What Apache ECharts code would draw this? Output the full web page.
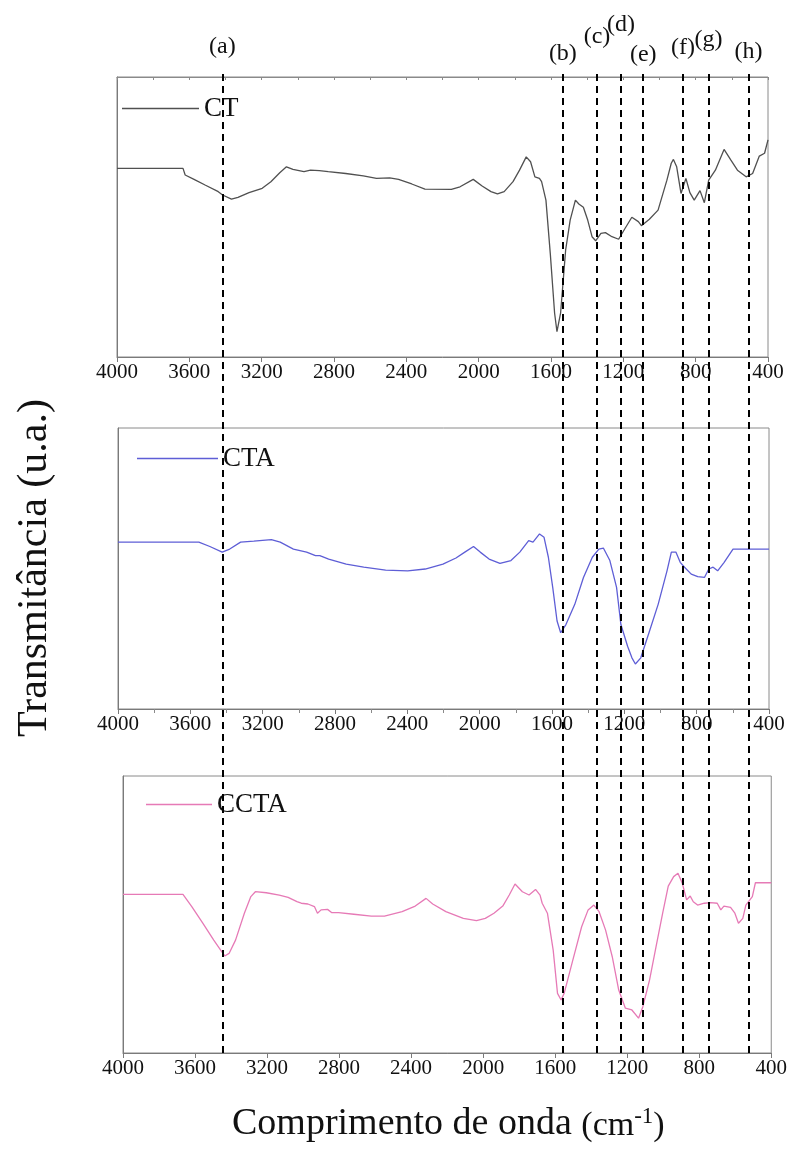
<!DOCTYPE html>
<html>
<head>
<meta charset="utf-8">
<script src="https://cdn.jsdelivr.net/npm/echarts@6/dist/echarts.min.js"></script>
<style>
  html, body { margin: 0; padding: 0; background: #ffffff; }
  #chart { width: 790px; height: 1150px; }
</style>
</head>
<body>
<div id="chart"></div>
<script>
// FTIR spectra: [wavenumber (cm-1), transmittance (arbitrary units)]
const ctSpectrum = [
  [4000,73.7],[3635,73.7],[3623,71.1],[3574,69.4],[3513,67.2],[3440,64.6],[3416,63.3],[3367,61.7],
  [3331,62.4],[3270,64.2],[3197,65.9],[3149,68.5],[3100,72.0],[3063,74.3],[3027,73.3],[2966,72.4],
  [2930,73.0],[2881,72.8],[2832,72.4],[2735,71.7],[2638,70.8],[2565,69.8],[2492,70.0],[2443,69.4],
  [2370,67.6],[2297,65.6],[2151,65.5],[2103,66.5],[2030,69.4],[1981,66.8],[1932,64.6],[1896,63.7],
  [1859,64.6],[1810,68.5],[1774,73.0],[1737,78.2],[1713,76.3],[1689,70.4],[1664,69.8],[1652,68.5],
  [1628,61.3],[1604,40.5],[1580,17.1],[1567,9.9],[1547,17.1],[1519,41.8],[1494,53.5],[1465,61.3],
  [1446,59.8],[1421,58.5],[1397,53.5],[1373,47.0],[1353,45.4],[1324,48.3],[1299,48.6],[1263,47.0],
  [1226,46.0],[1190,50.3],[1153,54.6],[1117,52.9],[1100,51.3],[1056,53.8],[1008,57.4],[959,69.1],
  [935,75.7],[923,77.2],[905,74.3],[881,63.9],[854,69.8],[832,64.2],[808,61.3],[776,65.0],
  [752,60.3],[728,69.1],[691,73.0],[643,81.1],[606,77.0],[569,73.0],[521,70.4],[485,71.7],
  [448,78.5],[419,79.6],[400,84.8]
];

const ctaSpectrum = [
  [4000,65.2],[3553,65.2],[3492,63.5],[3424,61.3],[3382,62.5],[3322,65.2],[3249,65.6],[3152,66.2],
  [3103,65.2],[3030,62.5],[2957,61.3],[2908,59.9],[2884,59.9],[2835,58.6],[2738,56.6],[2641,55.4],
  [2520,54.3],[2398,54.0],[2301,54.7],[2203,56.6],[2131,59.0],[2082,61.3],[2034,63.5],[1997,61.3],
  [1948,58.6],[1888,56.9],[1827,58.0],[1778,61.3],[1729,65.8],[1705,65.2],[1669,68.4],[1644,67.1],
  [1620,59.3],[1596,47.5],[1572,34.4],[1552,29.8],[1523,33.0],[1474,40.9],[1426,51.4],[1377,59.3],
  [1341,62.5],[1316,62.9],[1280,58.0],[1243,47.5],[1219,33.0],[1182,24.5],[1158,20.0],[1139,17.6],
  [1109,20.0],[1061,30.4],[1013,40.9],[964,54.0],[940,61.3],[915,61.3],[891,57.3],[867,55.4],
  [830,52.7],[794,51.7],[757,51.4],[733,54.7],[709,55.4],[684,54.0],[648,57.3],[599,62.5],
  [575,62.5],[400,62.5]
];

const cctaSpectrum = [
  [4000,62.0],[3667,62.0],[3618,57.2],[3557,50.7],[3496,44.1],[3452,39.6],[3435,37.9],[3411,38.9],
  [3375,44.1],[3326,54.6],[3290,61.1],[3265,63.0],[3204,62.6],[3132,61.7],[3083,60.8],[3034,59.1],
  [3010,58.5],[2973,58.2],[2937,57.2],[2920,54.6],[2900,55.9],[2864,56.1],[2840,54.8],[2803,54.8],
  [2718,54.2],[2621,53.5],[2548,53.5],[2450,55.2],[2377,57.4],[2317,60.4],[2280,58.2],[2207,55.2],
  [2110,52.6],[2037,51.7],[1988,52.6],[1940,54.6],[1891,57.4],[1855,61.7],[1823,66.0],[1782,63.0],
  [1745,61.7],[1709,63.9],[1684,61.7],[1672,58.5],[1643,54.6],[1611,40.2],[1587,23.3],[1567,20.7],
  [1550,23.3],[1502,36.3],[1453,49.3],[1417,55.9],[1385,57.8],[1356,55.2],[1320,48.0],[1283,37.6],
  [1247,24.6],[1210,17.5],[1174,16.8],[1137,13.6],[1113,18.1],[1076,28.5],[1040,41.5],[1003,54.6],
  [972,65.2],[942,68.9],[918,70.2],[894,66.3],[870,59.8],[850,61.3],[833,59.1],[809,57.8],
  [772,58.5],[736,58.7],[700,58.5],[680,55.9],[663,57.4],[626,56.9],[602,54.6],[582,50.7],
  [558,52.6],[541,57.8],[505,61.1],[488,66.5],[400,66.5]
];

// Band positions marked across all spectra (cm-1) and their labels
const bandPositions = [3452, 1575, 1387, 1254, 1132, 913, 772, 551];
const bandLabels = ['(a)', '(b)', '(c)', '(d)', '(e)', '(f)', '(g)', '(h)'];

const serif = '"Liberation Serif", "Times New Roman", serif';

const panels = [
  { name: 'CT',   data: ctSpectrum,   color: '#505050', minor: false,
    grid: { left: 117, top: 77,  width: 651, height: 280 }, yMax: 109.4,
    legend: { left: 122, top: 95, itemWidth: 77 } },
  { name: 'CTA',  data: ctaSpectrum,  color: '#5e5ed6', minor: true,
    grid: { left: 118, top: 428, width: 651, height: 281 }, yMax: 109.8,
    legend: { left: 137, top: 445, itemWidth: 81 } },
  { name: 'CCTA', data: cctaSpectrum, color: '#e67ab6', minor: false,
    grid: { left: 123, top: 776, width: 653, height: 277 }, yMax: 108.2,
    legend: { left: 146, top: 791, itemWidth: 66 } }
];

// vertical offsets of the band labels above the dashed lines
const labelLift = [11, 4, 21, 33, 3, 10, 18, 6];

const grids = panels.map(p => Object.assign({ show: true, borderColor: '#8a8a8a', borderWidth: 1, backgroundColor: 'transparent' }, p.grid));
grids.push({ left: 123, top: 70, width: 653, height: 983 });

const xAxes = panels.map((p, i) => ({
  type: 'value', gridIndex: i, inverse: true, min: 400, max: 4000, interval: 400,
  axisLine: { show: true, lineStyle: { color: '#7a7a7a', width: 1 } },
  axisTick: { show: true, inside: false, length: 5, lineStyle: { color: '#7a7a7a' } },
  minorTick: { show: p.minor, splitNumber: 2, length: 4, lineStyle: { color: '#8a8a8a' } },
  axisLabel: { fontFamily: serif, fontSize: 21, color: '#111', margin: 5, formatter: v => String(v) },
  splitLine: { show: false }
}));
// overlay axis for the band markers
xAxes.push({ type: 'value', gridIndex: 3, inverse: true, min: 400, max: 4000, show: false });
// small ticks along the top edge of the first frame
xAxes.push({
  type: 'value', gridIndex: 0, position: 'top', inverse: true, min: 400, max: 4000, interval: 200,
  axisLine: { show: true, lineStyle: { color: '#8a8a8a' } }, axisLabel: { show: false }, splitLine: { show: false },
  axisTick: { show: true, inside: true, length: 3, lineStyle: { color: '#8a8a8a' } }
});

const yAxes = panels.map((p, i) => ({
  type: 'value', gridIndex: i, min: 0, max: p.yMax,
  axisLine: { show: true, lineStyle: { color: '#7a7a7a' } },
  axisTick: { show: false }, axisLabel: { show: false }, splitLine: { show: false }
}));
yAxes.push({ type: 'value', gridIndex: 3, min: 0, max: 1, show: false });

const series = panels.map((p, i) => ({
  name: p.name, type: 'line', xAxisIndex: i, yAxisIndex: i,
  data: p.data, symbol: 'none', showSymbol: false, smooth: false,
  lineStyle: { color: p.color, width: 1.3 }, itemStyle: { color: p.color },
  z: 2
}));
series.push({
  name: 'bands', type: 'line', xAxisIndex: 3, yAxisIndex: 3, data: [], z: 5,
  markLine: {
    silent: true, symbol: 'none', animation: false,
    lineStyle: { color: '#000', width: 2, type: [7, 5] },
    label: { show: true, position: 'end', fontFamily: serif, fontSize: 24, color: '#111' },
    data: bandPositions.map((v, i) => ({
      xAxis: v,
      label: { formatter: bandLabels[i], distance: labelLift[i] }
    }))
  }
});

const legends = panels.map(p => ({
  data: [p.name], left: p.legend.left, top: p.legend.top, bottom: null, right: null,
  orient: 'horizontal', padding: 0,
  itemWidth: p.legend.itemWidth, itemHeight: 1.5, icon: 'rect',
  textStyle: { fontFamily: serif, fontSize: 27, color: '#111' },
  selectedMode: false
}));

const chart = echarts.init(document.getElementById('chart'), null, { renderer: 'canvas' });
chart.setOption({
  animation: false,
  backgroundColor: '#ffffff',
  grid: grids,
  xAxis: xAxes,
  yAxis: yAxes,
  legend: legends,
  series: series,
  graphic: [
    {
      type: 'text', x: 35, y: 568, rotation: Math.PI / 2,
      style: { text: 'Transmitância (u.a.)', font: '42px ' + serif, fill: '#111',
               textAlign: 'center', textVerticalAlign: 'middle' }
    },
    {
      type: 'text', x: 232, y: 1124,
      style: {
        text: '{a|Comprimento de onda }{b|(cm}{c|-1}{b|)}',
        textAlign: 'left', textVerticalAlign: 'middle',
        rich: {
          a: { fontFamily: serif, fontSize: 38, fill: '#111', verticalAlign: 'bottom' },
          b: { fontFamily: serif, fontSize: 34, fill: '#111', verticalAlign: 'bottom' },
          c: { fontFamily: serif, fontSize: 23, fill: '#111', verticalAlign: 'top' }
        }
      }
    }
  ]
});
</script>
</body>
</html>
